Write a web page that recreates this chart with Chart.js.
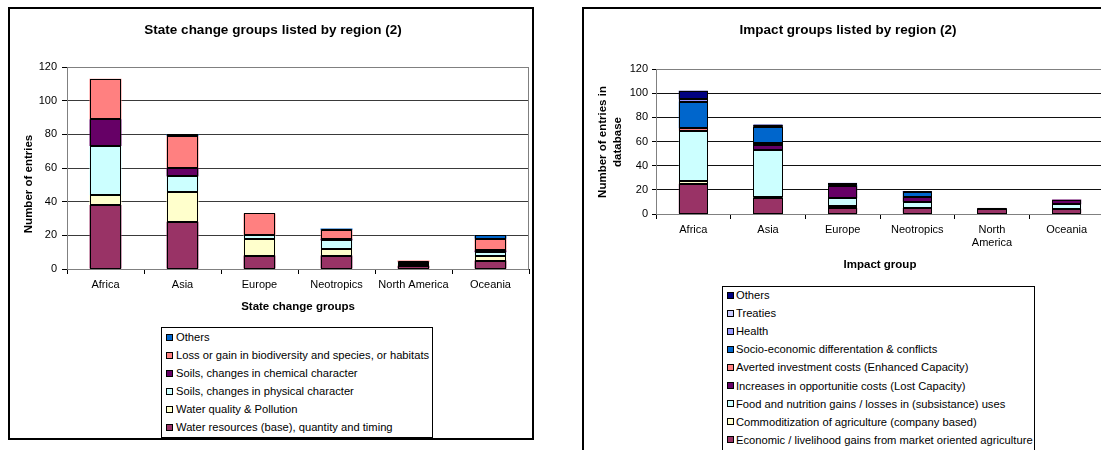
<!DOCTYPE html>
<html>
<head>
<meta charset="utf-8">
<script src="https://cdn.jsdelivr.net/npm/chart.js@4.4.1/dist/chart.umd.min.js"></script>
<style>
  html, body { margin: 0; padding: 0; overflow: hidden; background: #fff; width: 1101px; height: 450px; }
  .box { position: absolute; border: 2px solid #000; background: #fff; overflow: hidden; }
  .box canvas { position: absolute; left: 0; top: 0; }
  .legend { position: absolute; border: 1px solid #000; background: #fff;
            font: 11.2px 'Liberation Sans', Arial, sans-serif; color: #000; }
  .legend .sw { position: absolute; width: 5px; height: 5px; border: 1px solid #000; }
  .legend .tx { position: absolute; white-space: nowrap; line-height: 14px; height: 14px; }
</style>
</head>
<body>
<div class="box" id="boxL" style="left:8px; top:7px; width:522px; height:429px;">
  <canvas id="stateChart" width="522" height="429"></canvas>
</div>
<div class="legend" id="legendL" style="left:161px; top:327px; width:270px; height:109px;"></div>

<div class="box" id="boxR" style="left:582px; top:7px; width:528px; height:500px;">
  <canvas id="impactChart" width="528" height="280"></canvas>
</div>
<div class="legend" id="legendR" style="left:722px; top:286px; width:311px; height:175px;"></div>

<script>
// Regions (categories)
const regions = ['Africa', 'Asia', 'Europe', 'Neotropics', 'North America', 'Oceania'];
const impactTickLabels = ['Africa', 'Asia', 'Europe', 'Neotropics', ['North', 'America'], 'Oceania'];
const yTicks = [0, 20, 40, 60, 80, 100, 120];

// State change groups, stacked bottom to top
const waterResources = [38, 28, 8, 8, 2, 5];
const waterQuality   = [6, 18, 10, 4, 1, 3];
const soilsPhysical  = [29, 9, 2, 5, 1, 2];
const soilsChemical  = [16, 5, 0, 1, 0, 1];
const lossGain       = [24, 19, 13, 5, 1, 7];
const stateOthers    = [0, 1, 0, 1, 0, 2];

// Impact groups, stacked bottom to top
const economicGains   = [25, 13, 5, 5, 4, 4];
const commoditization = [2, 1, 2, 0, 0, 0];
const foodNutrition   = [42, 39, 6, 5, 0, 4];
const opportunityCost = [0, 4, 10, 4, 1, 4];
const avertedCosts    = [2, 2, 0, 0, 0, 0];
const socioEconomic   = [22, 13, 1, 4, 0, 0];
const health          = [2, 1, 0, 0, 0, 0];
const treaties        = [0, 0, 2, 0, 0, 0];
const impactOthers    = [7, 1, 0, 1, 0, 0];

const FONT = "'Liberation Sans', Arial, sans-serif";

const stateSeries = [
  { label: 'Water resources (base), quantity and timing', data: waterResources, color: '#993366' },
  { label: 'Water quality & Pollution', data: waterQuality, color: '#FFFFCC' },
  { label: 'Soils, changes in physical character', data: soilsPhysical, color: '#CCFFFF' },
  { label: 'Soils, changes in chemical character', data: soilsChemical, color: '#660066' },
  { label: 'Loss or gain in biodiversity and species, or habitats', data: lossGain, color: '#FF8080' },
  { label: 'Others', data: stateOthers, color: '#0066CC' }
];

const impactSeries = [
  { label: 'Economic / livelihood gains from market oriented agriculture', data: economicGains, color: '#993366' },
  { label: 'Commoditization of agriculture (company based)', data: commoditization, color: '#FFFFCC' },
  { label: 'Food and nutrition gains / losses in (subsistance) uses', data: foodNutrition, color: '#CCFFFF' },
  { label: 'Increases in opportunitie costs (Lost Capacity)', data: opportunityCost, color: '#660066' },
  { label: 'Averted investment costs (Enhanced Capacity)', data: avertedCosts, color: '#FF8080' },
  { label: 'Socio-economic differentation & conflicts', data: socioEconomic, color: '#0066CC' },
  { label: 'Health', data: health, color: '#9999FF' },
  { label: 'Treaties', data: treaties, color: '#CCCCFF' },
  { label: 'Others', data: impactOthers, color: '#000080' }
];

function toDatasets(series, barPct) {
  return series.map(s => ({
    label: s.label,
    data: s.data,
    backgroundColor: s.color,
    borderWidth: 0,
    categoryPercentage: 1,
    barPercentage: barPct
  }));
}

// Plot-area frame, thin outlines around each stacked segment, chart and axis titles
function decor(cfg) {
  return {
    id: 'decor',
    beforeDatasetsDraw(chart) {
      const a = chart.chartArea, c = chart.ctx;
      c.save();
      c.strokeStyle = '#808080';
      c.lineWidth = 1;
      c.strokeRect(a.left + 0.5, a.top + 0.5, a.right - a.left - 1, a.bottom - a.top);
      c.restore();
    },
    afterDatasetsDraw(chart) {
      const c = chart.ctx;
      c.save();
      c.strokeStyle = '#000';
      c.lineWidth = 1;
      chart.data.datasets.forEach((ds, i) => {
        const meta = chart.getDatasetMeta(i);
        meta.data.forEach((bar, j) => {
          if (!ds.data[j]) return;
          const p = bar.getProps(['x', 'y', 'base', 'width'], true);
          const l = Math.round(p.x - p.width / 2) + 0.5;
          const r = Math.round(p.x + p.width / 2) - 0.5;
          const t = Math.round(p.y) + 0.5;
          const b = Math.round(p.base) - 0.5;
          c.strokeRect(l, t, r - l, Math.max(b - t, 0));
        });
      });
      c.restore();
    },
    afterDraw(chart) {
      const c = chart.ctx;
      c.save();
      c.fillStyle = '#000';
      c.textAlign = 'center';
      c.textBaseline = 'middle';
      c.font = 'bold 13.5px ' + FONT;
      c.fillText(cfg.title, cfg.titleX, cfg.titleY);
      c.font = 'bold 11.5px ' + FONT;
      c.fillText(cfg.xTitle, cfg.xTitleX, cfg.xTitleY);
      c.translate(cfg.yTitleX, cfg.yTitleY);
      c.rotate(-Math.PI / 2);
      cfg.yTitle.forEach((line, i) => {
        const off = (i - (cfg.yTitle.length - 1) / 2) * 15;
        c.fillText(line, 0, off);
      });
      c.restore();
    }
  };
}

function makeChart(id, labels, series, o) {
  return new Chart(document.getElementById(id), {
    type: 'bar',
    data: { labels: labels, datasets: toDatasets(series, o.barPct) },
    options: {
      responsive: false,
      animation: false,
      devicePixelRatio: 1,
      layout: { padding: o.padding },
      plugins: { legend: { display: false }, tooltip: { enabled: false }, title: { display: false } },
      datasets: { bar: { inflateAmount: 0 } },
      scales: {
        x: {
          stacked: true,
          offset: true,
          grid: { display: true, drawOnChartArea: false, drawTicks: true, tickLength: 5, color: '#000', offset: true },
          border: { display: true, color: '#000', width: 1 },
          ticks: { color: '#000', font: { family: FONT, size: 11 }, padding: 4, maxRotation: 0, minRotation: 0, autoSkip: false },
          afterFit(s) { s.height = o.xHeight; }
        },
        y: {
          stacked: true,
          min: 0,
          max: 120,
          afterBuildTicks(s) { s.ticks = yTicks.map(v => ({ value: v })); },
          ticks: { color: '#000', font: { family: FONT, size: 11 }, padding: o.yPad },
          grid: { color: o.gridColor, tickLength: o.yTick, tickColor: '#000', lineWidth: 1 },
          border: { display: true, color: '#000', width: 1 },
          afterFit(s) { s.width = 40; }
        }
      }
    },
    plugins: [decor(o.decor)]
  });
}

makeChart('stateChart', regions, stateSeries, {
  barPct: 0.415,
  padding: { left: 17, right: 3, top: 58, bottom: 139 },
  xHeight: 30,
  yPad: 5,
  yTick: 5,
  gridColor: '#3a3a3a',
  decor: {
    title: 'State change groups listed by region (2)', titleX: 263, titleY: 21,
    xTitle: 'State change groups', xTitleX: 288, xTitleY: 298,
    yTitle: ['Number of entries'], yTitleX: 19, yTitleY: 175
  }
});

makeChart('impactChart', impactTickLabels, impactSeries, {
  barPct: 0.39,
  padding: { left: 32, right: 8, top: 60, bottom: 35 },
  xHeight: 40,
  yPad: 4,
  yTick: 4,
  gridColor: '#111',
  decor: {
    title: 'Impact groups listed by region (2)', titleX: 264, titleY: 21,
    xTitle: 'Impact group', xTitleX: 296, xTitleY: 256,
    yTitle: ['Number of entries in', 'database'], yTitleX: 26, yTitleY: 133
  }
});

// Legends: top entry is the topmost stack segment
function buildLegend(id, series, firstY, step, textX) {
  const box = document.getElementById(id);
  series.slice().reverse().forEach((s, i) => {
    const cy = firstY + i * step;
    const sw = document.createElement('div');
    sw.className = 'sw';
    sw.style.left = '4px';
    sw.style.top = (cy - 3.5) + 'px';
    sw.style.background = s.color;
    const tx = document.createElement('div');
    tx.className = 'tx';
    tx.style.left = textX + 'px';
    tx.style.top = (cy - 7) + 'px';
    tx.textContent = s.label;
    box.appendChild(sw);
    box.appendChild(tx);
  });
}
buildLegend('legendL', stateSeries, 9, 18, 14);
buildLegend('legendR', impactSeries, 8, 18.1, 13);
</script>
</body>
</html>
